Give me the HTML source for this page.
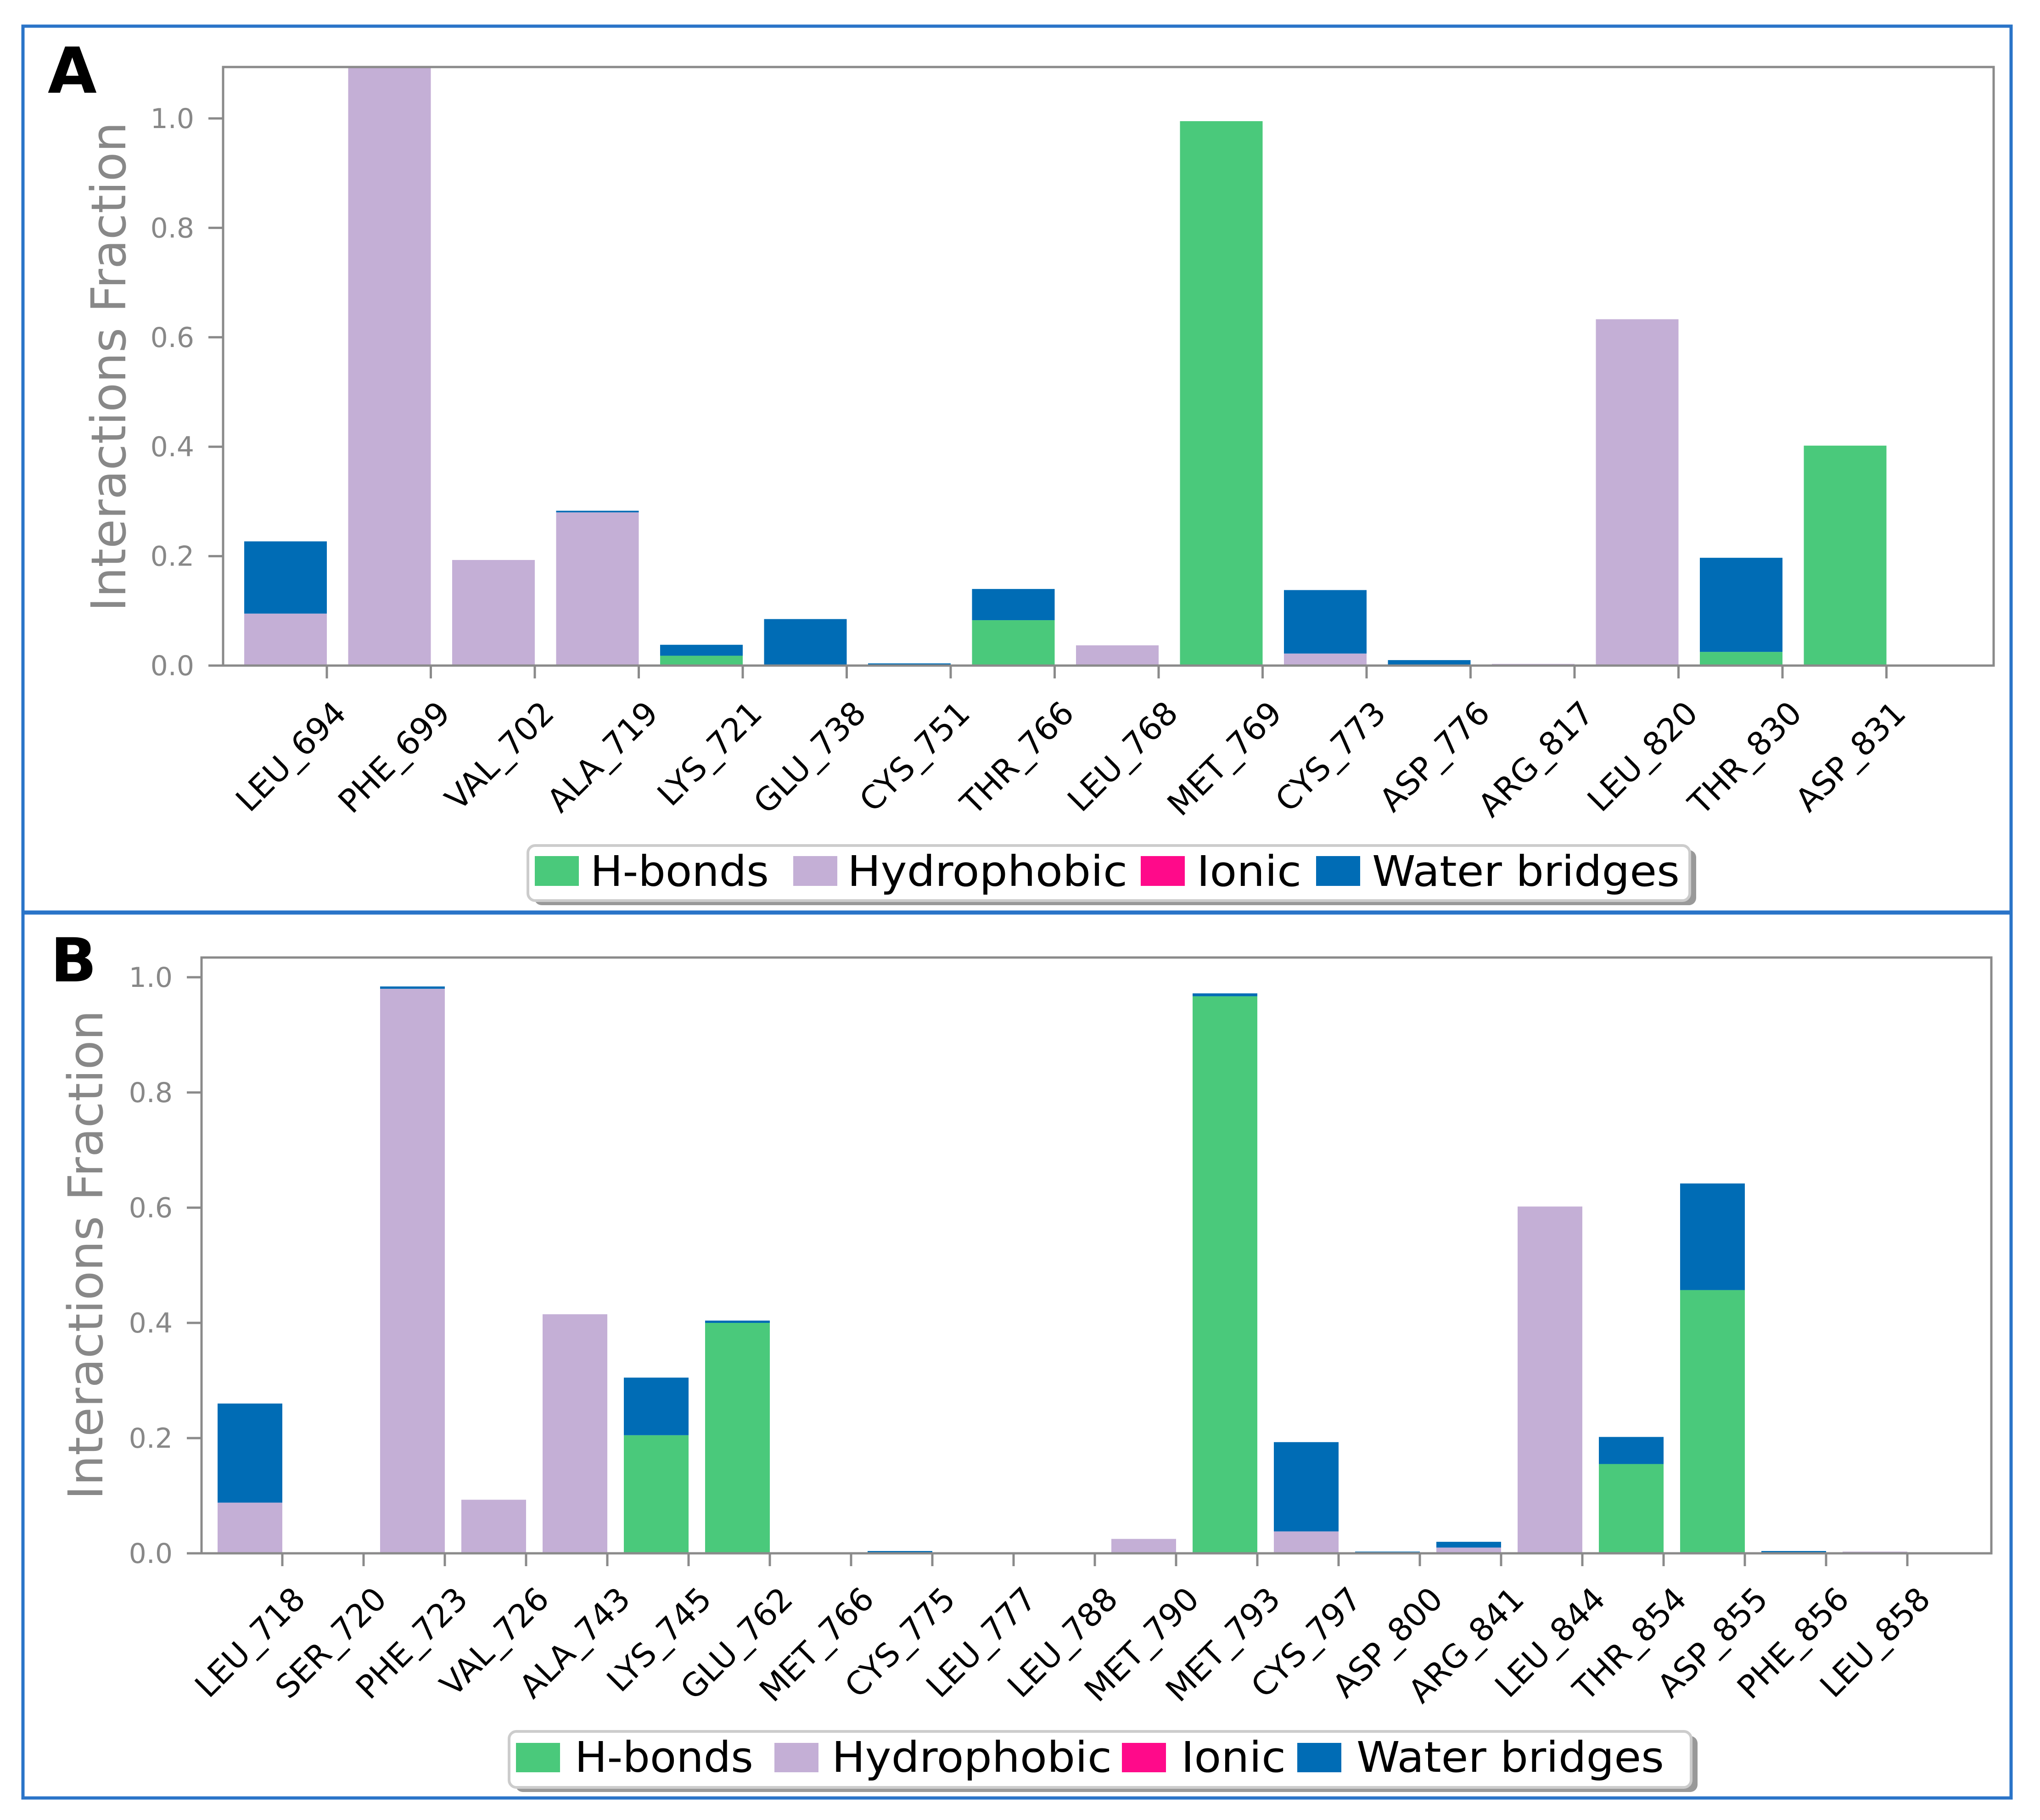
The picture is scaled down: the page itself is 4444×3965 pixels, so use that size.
<!DOCTYPE html>
<html><head><meta charset="utf-8">
<style>
html,body{margin:0;padding:0;background:#fff;}
svg{display:block;font-family:"DejaVu Sans","Liberation Sans",sans-serif;}
</style></head>
<body>
<svg id="fig" width="4444" height="3965" viewBox="0 0 4444 3965" xmlns="http://www.w3.org/2000/svg">
  <rect x="0" y="0" width="4444" height="3965" fill="#fff"/>
  <rect x="50" y="57" width="4331" height="3860" fill="none" stroke="#2a74c8" stroke-width="7"/>
  <line x1="50" y1="1988" x2="4381" y2="1988" stroke="#2a74c8" stroke-width="9"/>
  <text x="104" y="202" font-size="138" font-weight="bold" fill="#000">A</text>
  <text x="110" y="2138" font-size="132" font-weight="bold" fill="#000">B</text>
  <g id="panelA"></g>
  <g id="panelB"></g>
</svg>
<script>
// Panel A data
const catsA = ["LEU_694","PHE_699","VAL_702","ALA_719","LYS_721","GLU_738","CYS_751","THR_766","LEU_768","MET_769","CYS_773","ASP_776","ARG_817","LEU_820","THR_830","ASP_831"];
const hbA   = [0,0,0,0,0.018,0,0,0.083,0,0.995,0,0,0,0,0.025,0.402];
const hydA  = [0.095,1.1,0.193,0.28,0,0.002,0,0,0.037,0,0.022,0,0.003,0.633,0,0];
const ionA  = [0,0,0,0,0,0,0,0,0,0,0,0,0,0,0,0];
const watA  = [0.132,0,0,0.003,0.02,0.083,0.004,0.057,0,0,0.116,0.01,0,0,0.172,0];
// Panel B data
const catsB = ["LEU_718","SER_720","PHE_723","VAL_726","ALA_743","LYS_745","GLU_762","MET_766","CYS_775","LEU_777","LEU_788","MET_790","MET_793","CYS_797","ASP_800","ARG_841","LEU_844","THR_854","ASP_855","PHE_856","LEU_858"];
const hbB   = [0,0,0,0,0,0.205,0.4,0,0,0,0,0,0.967,0,0,0,0,0.155,0.457,0,0];
const hydB  = [0.088,0,0.98,0.093,0.415,0,0,0.002,0,0.001,0.002,0.025,0,0.038,0,0.01,0.602,0,0,0,0.003];
const ionB  = [0,0,0,0,0,0,0,0,0,0,0,0,0,0,0,0,0,0,0,0,0];
const watB  = [0.172,0,0.004,0,0,0.1,0.004,0,0.004,0,0,0,0.005,0.155,0.003,0.01,0,0.047,0.185,0.004,0];
const yTicks = [0.0,0.2,0.4,0.6,0.8,1.0];
const yTickLabels = ["0.0","0.2","0.4","0.6","0.8","1.0"];
const legendLabels = ["H-bonds","Hydrophobic","Ionic","Water bridges"];

const COLORS = ["#4ac97b","#c4afd6","#ff0a8a","#006cb5"];
const NS = "http://www.w3.org/2000/svg";
function mk(tag, attrs, parent){
  const e = document.createElementNS(NS, tag);
  for (const k in attrs) e.setAttribute(k, attrs[k]);
  parent.appendChild(e); return e;
}

function drawPanel(g, cfg, cats, series){
  const {left,right,top,y0,y1,tick0,step,barW,ymax,ytickRight,titleX,titleY,labelDx,labelDy,leg} = cfg;
  const yScale = v => y0 - v*(y0-y1);
  const xTick = i => tick0 + i*step;
  cats.forEach((c,i)=>{
    let base = 0;
    series.forEach((arr,s)=>{
      const v = arr[i];
      if (v>0){
        const top_ = Math.max(yScale(Math.min(base+v, ymax)), top);
        const r = mk('rect',{x:xTick(i)-barW, y:top_, width:barW, height:yScale(base)-top_, fill:COLORS[s]}, g);
        
        
      }
      base += v;
    });
  });
  const frame = mk('rect',{x:left,y:top,width:right-left,height:y0-top,fill:'none',stroke:'#8a8a8a','stroke-width':5},g);
  
  
  yTicks.forEach((t,k)=>{
    const y = yScale(t);
    const tl = mk('line',{x1:left-32,y1:y,x2:left,y2:y,stroke:'#8a8a8a','stroke-width':5},g);
    
    
    const tx = mk('text',{x:ytickRight,y:y+21,'text-anchor':'end','font-size':60,fill:'#888'},g);
    tx.textContent = yTickLabels[k];
    
    
  });
  const yt = mk('text',{x:titleX,y:titleY+37,'text-anchor':'middle','font-size':104,fill:'#888',transform:`rotate(-90 ${titleX} ${titleY})`},g);
  yt.textContent = "Interactions Fraction";
  
  
  cats.forEach((c,i)=>{
    const x = xTick(i);
    const tl = mk('line',{x1:x,y1:y0,x2:x,y2:y0+28,stroke:'#8a8a8a','stroke-width':5},g);
    
    
    const lx = x+labelDx, ly = y0+labelDy;
    const tg = mk('g',{transform:`translate(${lx},${ly}) rotate(-45)`},g);
    const tx = mk('text',{x:0,y:0,'text-anchor':'end','font-size':70,fill:'#000'},tg);
    tx.textContent = c;
    
    
  });
  const lg = mk('g',{},g);
  
  
  mk('rect',{x:leg.x+14,y:leg.y+10,width:leg.w,height:leg.h,rx:16,fill:'#999'},lg);
  mk('rect',{x:leg.x,y:leg.y,width:leg.w,height:leg.h,rx:16,fill:'#fff',stroke:'#ccc','stroke-width':6},lg);
  leg.items.forEach((it,k)=>{
    const sw = mk('rect',{x:it.sx,y:leg.swY,width:it.sw,height:leg.swH,fill:COLORS[k]},lg);
    
    
    const t = mk('text',{x:it.tx,y:leg.tY,'font-size':92,fill:'#000',textLength:it.tw,lengthAdjust:'spacingAndGlyphs'},lg);
    t.textContent = legendLabels[k];
    
    
  });
}

const legItemsA = [
  {sx:1165,sw:96,tx:1286,tw:389},
  {sx:1728,sw:96,tx:1846,tw:610},
  {sx:2485,sw:96,tx:2607,tw:228},
  {sx:2867,sw:96,tx:2989,tw:670}
];
drawPanel(document.getElementById('panelA'),{
  left:486,right:4343,top:146,y0:1450,y1:258,tick0:712,step:226.5,barW:180,ymax:1.094,
  ytickRight:423,titleX:236,titleY:799,labelDx:46,labelDy:108,
  leg:{x:1150,y:1842,w:2531,h:120,swY:1865,swH:65,tY:1930,items:legItemsA}
},catsA,[hbA,hydA,ionA,watA]);

const legItemsB = legItemsA.map(o=>({sx:o.sx-41,sw:o.sw,tx:o.tx-34,tw:o.tw}));
drawPanel(document.getElementById('panelB'),{
  left:439,right:4338,top:2086,y0:3384,y1:2129,tick0:615,step:177,barW:141,ymax:1.034,
  ytickRight:376,titleX:186,titleY:2734,labelDx:54,labelDy:104,
  leg:{x:1109,y:3772,w:2575,h:122,swY:3797,swH:64,tY:3860,items:legItemsB}
},catsB,[hbB,hydB,ionB,watB]);
</script>
</body></html>
